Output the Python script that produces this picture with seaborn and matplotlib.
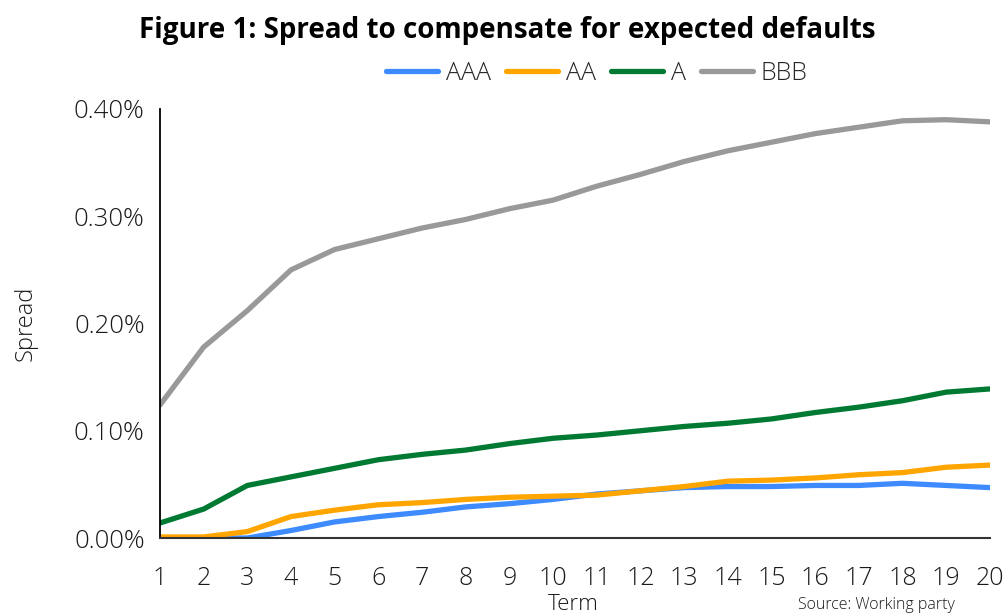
import matplotlib
matplotlib.use("Agg")
import matplotlib.pyplot as plt
from matplotlib.ticker import PercentFormatter, MultipleLocator
from matplotlib.lines import Line2D
import seaborn as sns
import pandas as pd

# Spread (as a fraction) needed to compensate for expected defaults, by term in years
terms = list(range(1, 21))
aaa = [0.0000, 0.0000, 0.0000, 0.0007, 0.0015, 0.0020, 0.0024, 0.0029, 0.0032, 0.0036,
       0.0041, 0.0044, 0.0047, 0.0048, 0.0048, 0.0049, 0.0049, 0.0051, 0.0049, 0.0047]
aa = [0.0001, 0.0001, 0.0006, 0.0020, 0.0026, 0.0031, 0.0033, 0.0036, 0.0038, 0.0039,
      0.0040, 0.0044, 0.0048, 0.0053, 0.0054, 0.0056, 0.0059, 0.0061, 0.0066, 0.0068]
a = [0.0014, 0.0027, 0.0049, 0.0057, 0.0065, 0.0073, 0.0078, 0.0082, 0.0088, 0.0093,
     0.0096, 0.0100, 0.0104, 0.0107, 0.0111, 0.0117, 0.0122, 0.0128, 0.0136, 0.0139]
bbb = [0.0124, 0.0178, 0.0212, 0.0250, 0.0269, 0.0279, 0.0289, 0.0297, 0.0307, 0.0315,
       0.0328, 0.0339, 0.0351, 0.0361, 0.0369, 0.0377, 0.0383, 0.0389, 0.0390, 0.0388]
ratings = ["AAA", "AA", "A", "BBB"]
colors = ["#3d8bff", "#ffa500", "#007a33", "#999999"]

df = pd.DataFrame({"Term": terms * 4,
                   "Spread": [v / 10 for v in aaa + aa + a + bbb],
                   "Rating": [r for r in ratings for _ in terms]})

sns.set_style("white")
plt.rcParams["font.family"] = ["Open Sans", "DejaVu Sans"]

fig = plt.figure(figsize=(10.08, 6.16), dpi=100)
ax = fig.add_axes([0.1587, 0.1266, 0.8233, 0.6965])

sns.lineplot(data=df, x="Term", y="Spread", hue="Rating", hue_order=ratings,
             palette=colors, linewidth=3.8, legend=False, ax=ax,
             solid_capstyle="round", solid_joinstyle="round")

ax.set_xlim(1, 20)
ax.set_ylim(0, 0.004)
ax.xaxis.set_major_locator(MultipleLocator(1))
ax.yaxis.set_major_locator(MultipleLocator(0.001))
ax.yaxis.set_major_formatter(PercentFormatter(xmax=1, decimals=2))
ax.tick_params(axis="x", length=0, pad=20, labelsize=18, labelcolor="#1a1a1a")
ax.tick_params(axis="y", length=0, pad=11, labelsize=18.5, labelcolor="#1a1a1a")
for lab in ax.get_xticklabels() + ax.get_yticklabels():
    lab.set_fontweight("light")

for side in ("top", "right"):
    ax.spines[side].set_visible(False)
ax.spines["left"].set_color("#000000")
ax.spines["left"].set_linewidth(1.3)
ax.spines["bottom"].set_color("#333333")
ax.spines["bottom"].set_linewidth(1.5)

ax.set_xlabel("")
ax.set_ylabel("Spread", fontsize=17, fontweight="light", labelpad=26, color="#1a1a1a")
fig.text(0.569, 0.018, "Term", fontsize=16, fontweight="light", ha="center", va="center",
         color="#1a1a1a")
fig.text(0.869, 0.018, "Source: Working party", fontsize=11.5, fontweight="light",
         ha="center", va="center", color="#1a1a1a")

fig.text(0.503, 0.951, "Figure 1: Spread to compensate for expected defaults",
         fontsize=20, fontweight="bold", ha="center", va="center", color="#000000")

handles = [Line2D([0], [0], color=c, lw=3.8, solid_capstyle="round") for c in colors]
fig.legend(handles, ratings, loc="center", bbox_to_anchor=(0.592, 0.881), ncol=4,
           frameon=False, handlelength=2.1, handletextpad=0.3,
           columnspacing=0.6, prop={"weight": "light", "size": 18})

fig.savefig("out.png", dpi=100)
